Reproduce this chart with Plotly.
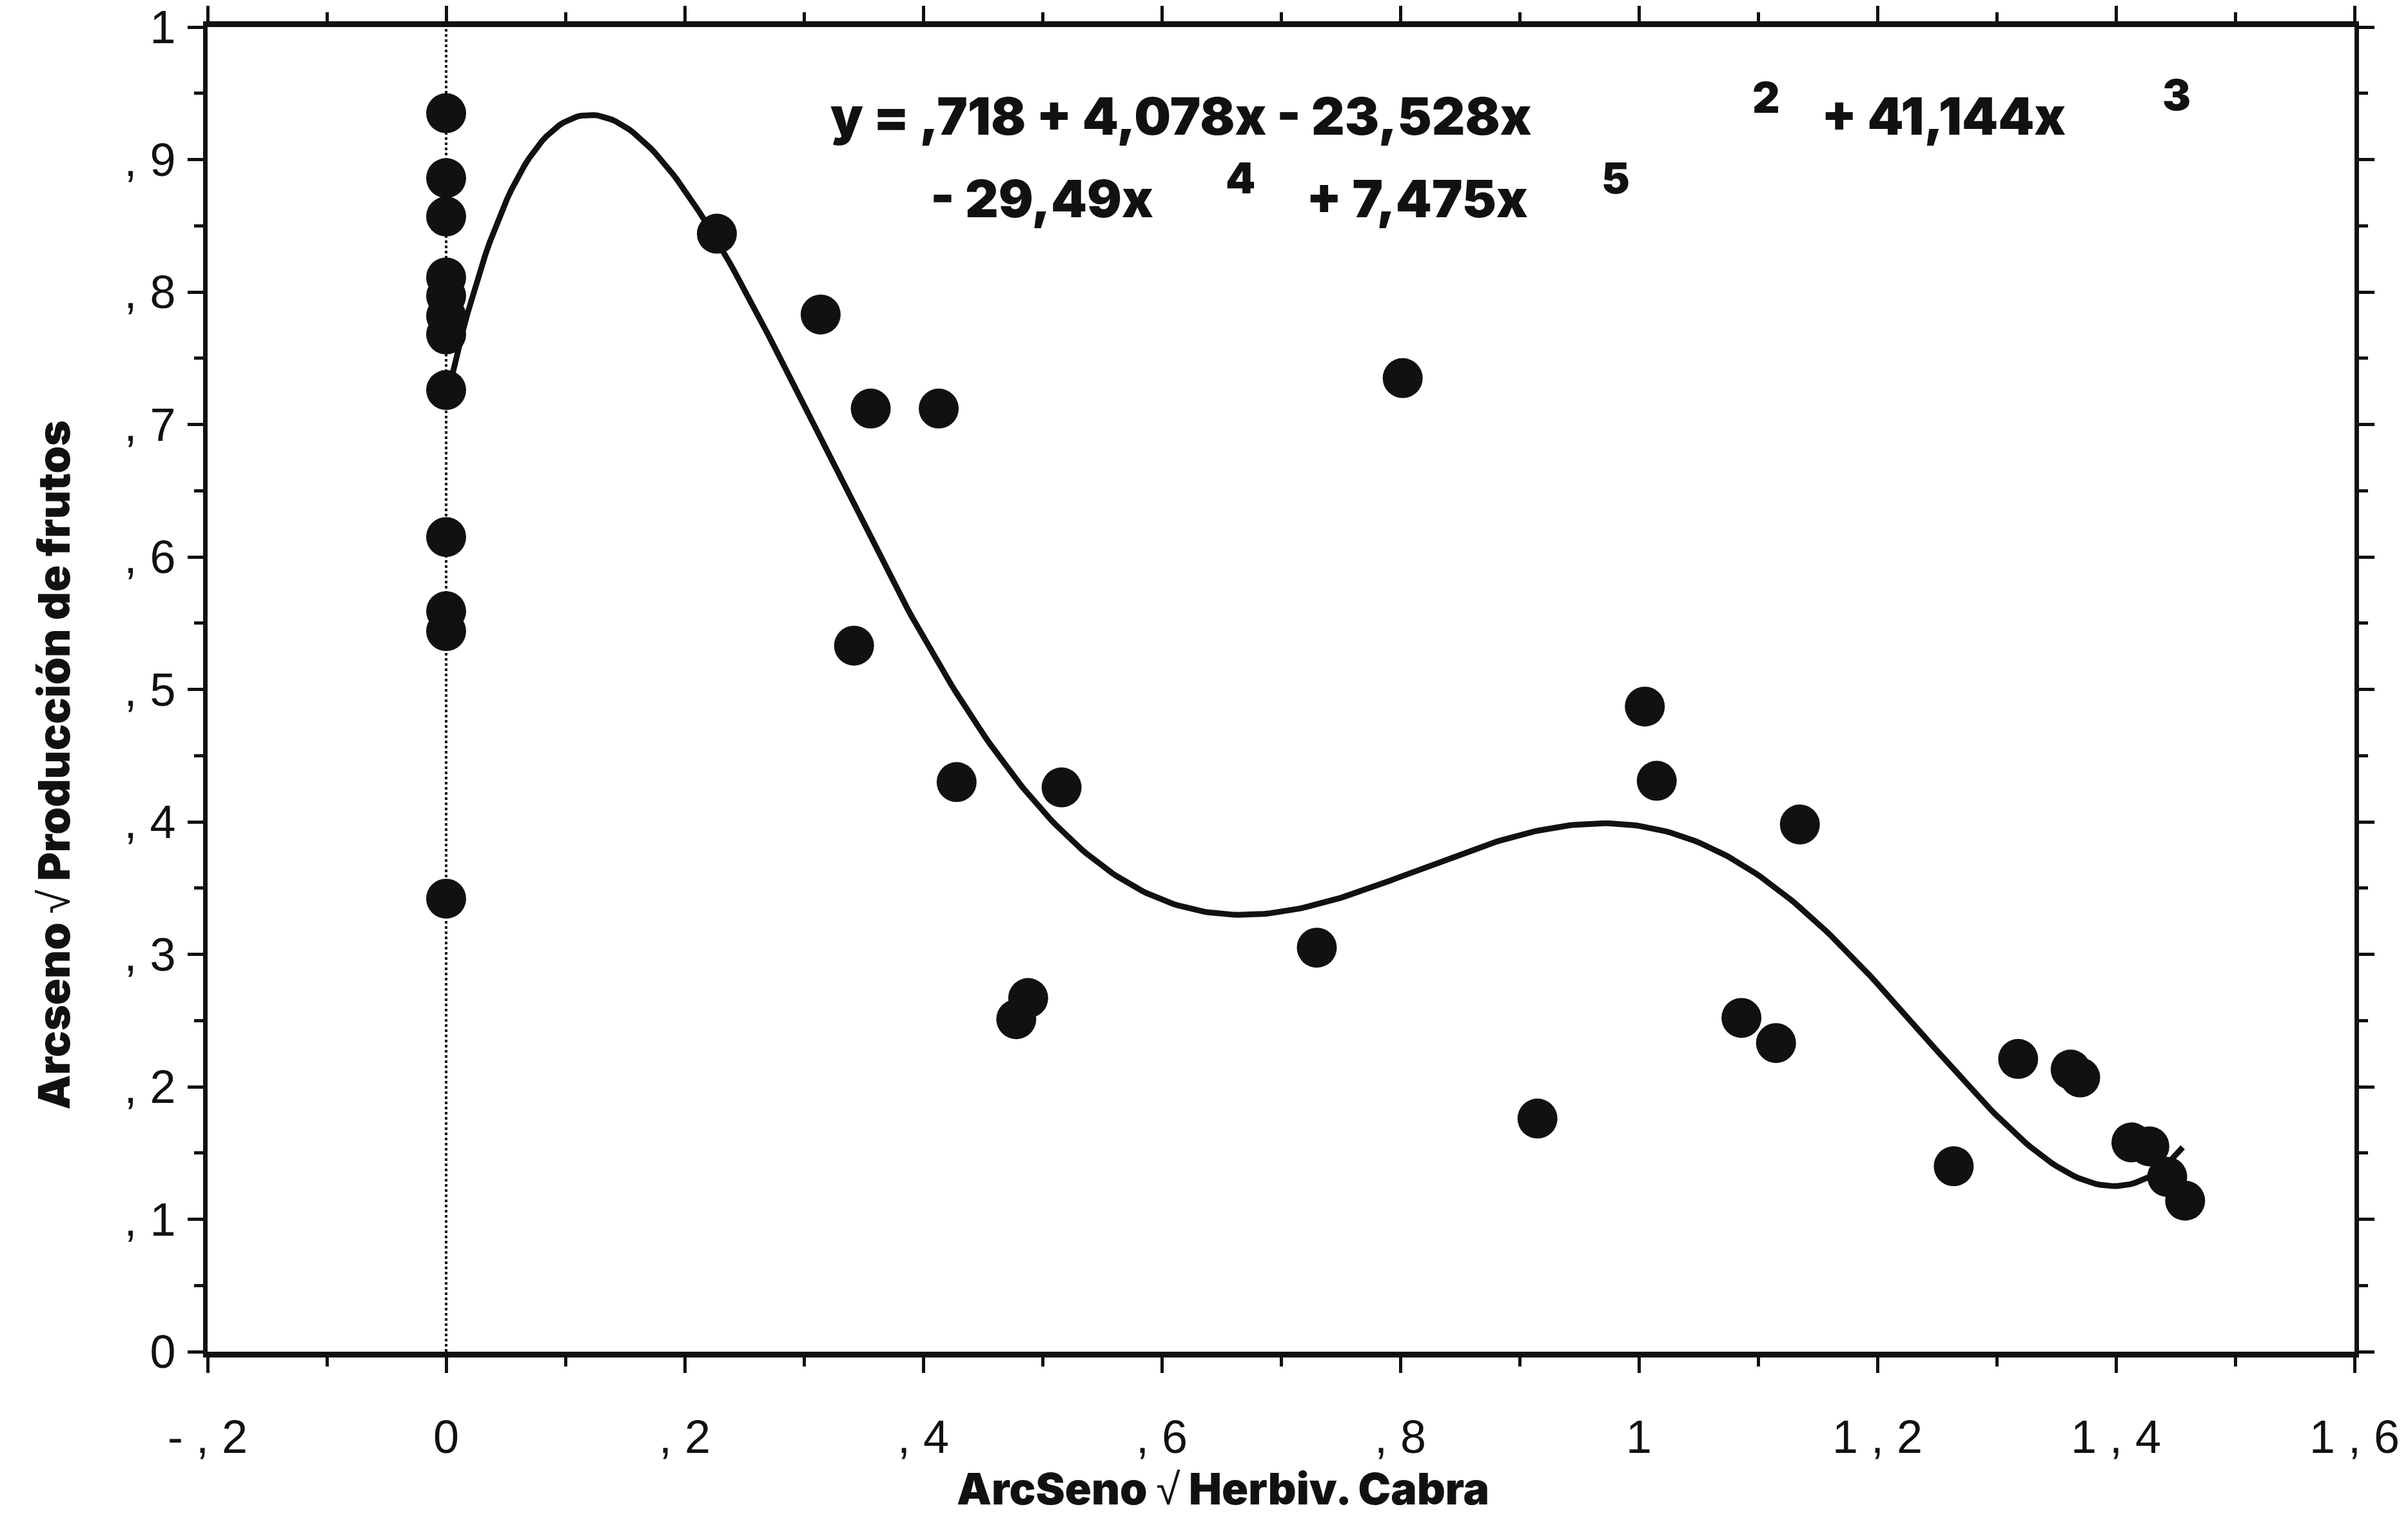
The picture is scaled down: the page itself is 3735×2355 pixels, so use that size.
import plotly.graph_objects as go

# ---------------- data ----------------
x_zero = [0, 0, 0, 0, 0, 0, 0, 0, 0, 0, 0, 0]
y_zero = [0.935, 0.886, 0.857, 0.811, 0.797, 0.782, 0.768, 0.726, 0.615, 0.559, 0.544, 0.342]

x_pts = [0.227, 0.314, 0.356, 0.413, 0.342, 0.428, 0.516, 0.488, 0.478, 0.802, 0.730,
         1.005, 1.015, 1.135, 0.915, 1.086, 1.115, 1.264, 1.318, 1.362, 1.370,
         1.413, 1.428, 1.443, 1.458]
y_pts = [0.844, 0.783, 0.712, 0.712, 0.533, 0.430, 0.426, 0.267, 0.251, 0.735, 0.305,
         0.487, 0.431, 0.398, 0.176, 0.252, 0.233, 0.140, 0.221, 0.213, 0.207,
         0.158, 0.155, 0.132, 0.114]

# fitted polynomial coefficients (as printed on the chart)
coefs = [0.718, 4.078, -23.528, 41.144, -29.49, 7.475]
fit_x_min, fit_x_max = 0.0, 1.456

x_tickvals = [-0.2, 0, 0.2, 0.4, 0.6, 0.8, 1.0, 1.2, 1.4, 1.6]
x_ticktext = ["- , 2", "0", ", 2", ", 4", ", 6", ", 8", "1", "1 , 2", "1 , 4", "1 , 6"]
y_tickvals = [0, 0.1, 0.2, 0.3, 0.4, 0.5, 0.6, 0.7, 0.8, 0.9, 1.0]
y_ticktext = ["0", ", 1", ", 2", ", 3", ", 4", ", 5", ", 6", ", 7", ", 8", ", 9", "1"]

ROOT = "<span style='font-family:Liberation Sans;font-weight:normal'>√</span>"
x_title = "ArcSeno " + ROOT + " Herbiv. Cabra"
y_title = "Arcseno " + ROOT + " Producción de frutos"

# ---------------- figure ----------------
all_x = x_zero + x_pts
all_y = y_zero + y_pts

n = 400
fx = [fit_x_min + (fit_x_max - fit_x_min) * i / (n - 1) for i in range(n)]
fy = [sum(c * (v ** k) for k, c in enumerate(coefs)) for v in fx]

INK = "#111111"
fig = go.Figure()
fig.add_trace(go.Scatter(x=all_x, y=all_y, mode="markers",
                         marker=dict(size=62, color=INK, line=dict(width=0)),
                         showlegend=False, cliponaxis=False))
fig.add_trace(go.Scatter(x=fx, y=fy, mode="lines",
                         line=dict(color=INK, width=9),
                         showlegend=False))

# dotted vertical line at x = 0
fig.add_shape(type="line", xref="x", yref="y", x0=0, x1=0, y0=0, y1=1,
              line=dict(color=INK, width=4, dash="dot"), layer="below")

FONT = "Liberation Sans, Arial, Helvetica, sans-serif"
BFONT = "Inter, Liberation Sans, Arial, sans-serif"

fig.update_xaxes(range=[-0.2, 1.6], tickmode="array", tickvals=x_tickvals, ticktext=x_ticktext,
                 ticks="outside", ticklen=24, tickwidth=5, tickcolor=INK,
                 showline=True, linewidth=9, linecolor=INK, mirror="allticks",
                 showgrid=False, zeroline=False,
                 minor=dict(tickmode="array",
                            tickvals=[-0.1, 0.1, 0.3, 0.5, 0.7, 0.9, 1.1, 1.3, 1.5],
                            ticks="outside", ticklen=14, tickwidth=5, tickcolor=INK,
                            showgrid=False),
                 tickfont=dict(family=FONT, size=72, color=INK),
                 ticklabelstandoff=38)
fig.update_yaxes(range=[0, 1], tickmode="array", tickvals=y_tickvals, ticktext=y_ticktext,
                 ticks="outside", ticklen=24, tickwidth=5, tickcolor=INK,
                 showline=True, linewidth=7, linecolor=INK, mirror="allticks",
                 showgrid=False, zeroline=False,
                 minor=dict(tickmode="array",
                            tickvals=[0.05, 0.15, 0.25, 0.35, 0.45, 0.55, 0.65, 0.75, 0.85, 0.95],
                            ticks="outside", ticklen=14, tickwidth=5, tickcolor=INK,
                            showgrid=False),
                 tickfont=dict(family=FONT, size=72, color=INK),
                 ticklabelstandoff=4)

eq_font = dict(family=BFONT, size=80, color=INK, weight=900)
sup_font = dict(family=BFONT, size=66, color=INK, weight=900)
title_font = dict(family=BFONT, size=68, color=INK, weight=900)
ann = [
    dict(text="y = ,718 + 4,078x - 23,528x", x=0.2895, y=0.933, xanchor="left", yanchor="middle", font=eq_font),
    dict(text="2", x=0.726, y=0.947, xanchor="center", yanchor="middle", font=sup_font),
    dict(text="+ 41,144x", x=0.751, y=0.933, xanchor="left", yanchor="middle", font=eq_font),
    dict(text="3", x=0.917, y=0.949, xanchor="center", yanchor="middle", font=sup_font),
    dict(text="- 29,49x", x=0.336, y=0.871, xanchor="left", yanchor="middle", font=eq_font),
    dict(text="4", x=0.481, y=0.886, xanchor="center", yanchor="middle", font=sup_font),
    dict(text="+ 7,475x", x=0.511, y=0.871, xanchor="left", yanchor="middle", font=eq_font),
    dict(text="5", x=0.656, y=0.886, xanchor="center", yanchor="middle", font=sup_font),
    dict(text=x_title, x=0.473, y=-0.103, xanchor="center", yanchor="middle", font=title_font),
    dict(text=y_title, x=-0.0718, y=0.443, xanchor="center", yanchor="middle", textangle=-90,
         font=title_font),
]
for a in ann:
    a.update(xref="paper", yref="paper", showarrow=False)
fig.update_layout(annotations=ann)

fig.update_layout(width=3735, height=2355,
                  margin=dict(l=322, r=83, t=42, b=258, autoexpand=False),
                  paper_bgcolor="white", plot_bgcolor="white",
                  showlegend=False)

fig.write_html("out.html")
